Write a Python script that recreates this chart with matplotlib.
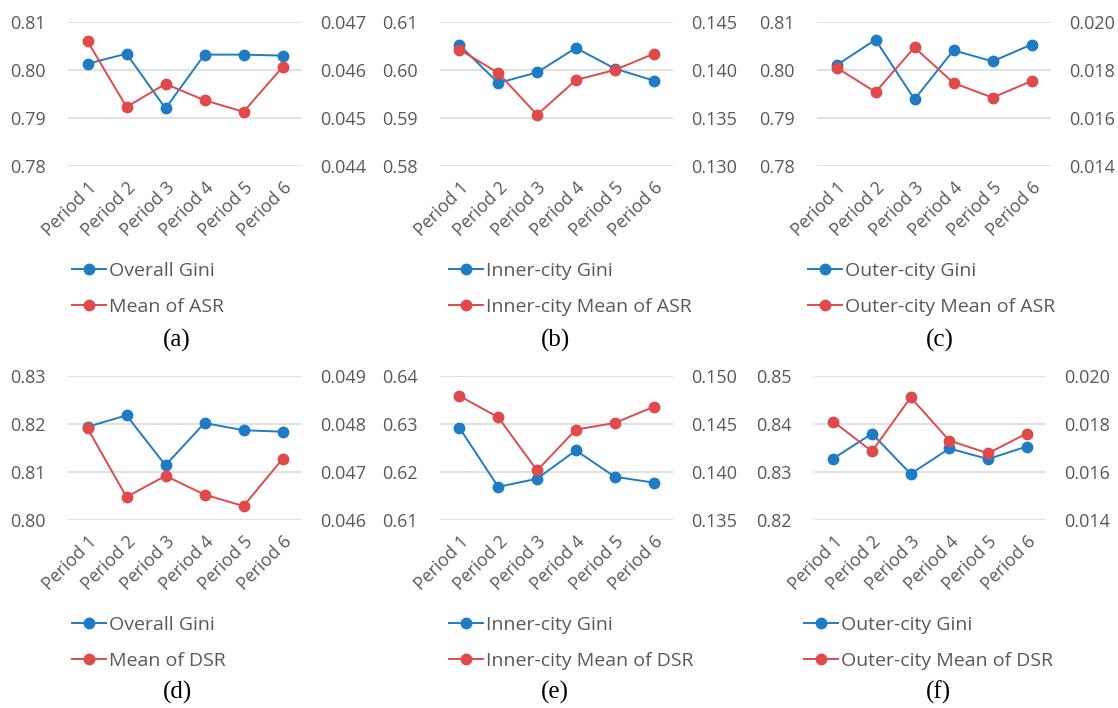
import matplotlib
matplotlib.use("Agg")
import matplotlib.pyplot as plt
from matplotlib.lines import Line2D

plt.rcParams['font.family'] = ['Open Sans', 'DejaVu Sans']

periods = ["Period 1", "Period 2", "Period 3", "Period 4", "Period 5", "Period 6"]

# (a)
gini_a = [0.8013, 0.8034, 0.7920, 0.8032, 0.8032, 0.8030]
mean_a = [0.04660, 0.04523, 0.04571, 0.04537, 0.04513, 0.04606]
# (b)
gini_b = [0.6052, 0.5973, 0.5995, 0.6046, 0.6003, 0.5978]
mean_b = [0.14213, 0.13969, 0.13533, 0.13896, 0.14000, 0.14168]
# (c)
gini_c = [0.8010, 0.8063, 0.7939, 0.8041, 0.8018, 0.8053]
mean_c = [0.01810, 0.01708, 0.01894, 0.01746, 0.01685, 0.01754]
# (d)
gini_d = [0.8194, 0.8218, 0.8114, 0.8202, 0.8187, 0.8184]
mean_d = [0.04791, 0.04648, 0.04692, 0.04653, 0.04629, 0.04727]
# (e)
gini_e = [0.6292, 0.6169, 0.6186, 0.6245, 0.6190, 0.6178]
mean_e = [0.14792, 0.14570, 0.14016, 0.14442, 0.14511, 0.14678]
# (f)
gini_f = [0.8328, 0.8380, 0.8296, 0.8349, 0.8327, 0.8353]
mean_f = [0.01810, 0.01686, 0.01911, 0.01731, 0.01678, 0.01760]

left_ticks_a = [0.78, 0.79, 0.80, 0.81]
right_ticks_a = [0.044, 0.045, 0.046, 0.047]
left_ticks_b = [0.58, 0.59, 0.60, 0.61]
right_ticks_b = [0.130, 0.135, 0.140, 0.145]
left_ticks_c = [0.78, 0.79, 0.80, 0.81]
right_ticks_c = [0.014, 0.016, 0.018, 0.020]
left_ticks_d = [0.80, 0.81, 0.82, 0.83]
right_ticks_d = [0.046, 0.047, 0.048, 0.049]
left_ticks_e = [0.61, 0.62, 0.63, 0.64]
right_ticks_e = [0.135, 0.140, 0.145, 0.150]
left_ticks_f = [0.82, 0.83, 0.84, 0.85]
right_ticks_f = [0.014, 0.016, 0.018, 0.020]

labels_gini = ["Overall Gini", "Inner-city Gini", "Outer-city Gini",
               "Overall Gini", "Inner-city Gini", "Outer-city Gini"]
labels_mean = ["Mean of ASR", "Inner-city Mean of ASR", "Outer-city Mean of ASR",
               "Mean of DSR", "Inner-city Mean of DSR", "Outer-city Mean of DSR"]
captions = ["(a)", "(b)", "(c)", "(d)", "(e)", "(f)"]

W, H = 1118, 708
fig = plt.figure(figsize=(W / 100, H / 100), dpi=100)

BLUE = "#1f7cc4"
RED = "#e04a4a"
GRAY = "#595959"
GRID = "#d9d9d9"

panels = [
    (gini_a, mean_a, left_ticks_a, right_ticks_a, (68, 302, 22, 166), (72, 262), (177, 340), "{:.2f}", "{:.3f}"),
    (gini_b, mean_b, left_ticks_b, right_ticks_b, (440, 673, 22, 166), (449, 262), (555, 340), "{:.2f}", "{:.3f}"),
    (gini_c, mean_c, left_ticks_c, right_ticks_c, (817, 1051, 22, 166), (808, 262), (940, 340), "{:.2f}", "{:.3f}"),
    (gini_d, mean_d, left_ticks_d, right_ticks_d, (68, 302, 376, 520), (72, 616), (177, 692), "{:.2f}", "{:.3f}"),
    (gini_e, mean_e, left_ticks_e, right_ticks_e, (440, 673, 376, 520), (449, 616), (555, 692), "{:.2f}", "{:.3f}"),
    (gini_f, mean_f, left_ticks_f, right_ticks_f, (814, 1046, 376, 520), (804, 616), (938, 692), "{:.2f}", "{:.3f}"),
]

for i, (g, m, lt, rt, (x0, x1, yt, yb), (lx, ly), (cx, cy), lf, rf) in enumerate(panels):
    ax = fig.add_axes([x0 / W, 1 - yb / H, (x1 - x0) / W, (yb - yt) / H])
    ax2 = ax.twinx()
    xs = list(range(len(periods)))
    ax.set_xlim(-0.5, len(periods) - 0.5)
    ax.set_ylim(lt[0], lt[-1])
    ax2.set_ylim(rt[0], rt[-1])
    ax.set_yticks(lt)
    ax.set_yticklabels([lf.format(v) for v in lt])
    ax2.set_yticks(rt)
    ax2.set_yticklabels([rf.format(v) for v in rt])
    ax.grid(axis='y', color=GRID, linewidth=1.1)
    ax.set_axisbelow(True)
    for a in (ax, ax2):
        for s in a.spines.values():
            s.set_visible(False)
    ax.tick_params(axis='y', length=0, pad=16, labelsize=13, labelcolor=GRAY)
    ax2.tick_params(axis='y', length=0, pad=13, labelsize=13, labelcolor=GRAY)
    ax.set_xticks(xs)
    ax.set_xticklabels(periods, rotation=45, ha='right', rotation_mode='anchor',
                       fontsize=12.8, color=GRAY)
    ax.tick_params(axis='x', length=0, pad=9)
    ax.plot(xs, g, color=BLUE, lw=1.4, marker='o', markersize=7.5, zorder=3, clip_on=False)
    ax2.plot(xs, m, color=RED, lw=1.4, marker='o', markersize=7.5, zorder=3, clip_on=False)

    handles = [Line2D([], [], color=BLUE, lw=1.4, marker='o', markersize=7.5),
               Line2D([], [], color=RED, lw=1.4, marker='o', markersize=7.5)]
    fig.legend(handles, [labels_gini[i], labels_mean[i]],
               loc='upper left', bbox_to_anchor=(lx / W, 1 - ly / H),
               frameon=False, fontsize=14, labelcolor=GRAY,
               handlelength=1.75, handletextpad=0.15, labelspacing=0.9,
               borderpad=0, borderaxespad=0)
    fig.text(cx / W, 1 - cy / H, captions[i], ha='center', va='center',
             fontsize=18, family='Liberation Serif', color='black')

fig.savefig("out.png", dpi=100, facecolor='white')
